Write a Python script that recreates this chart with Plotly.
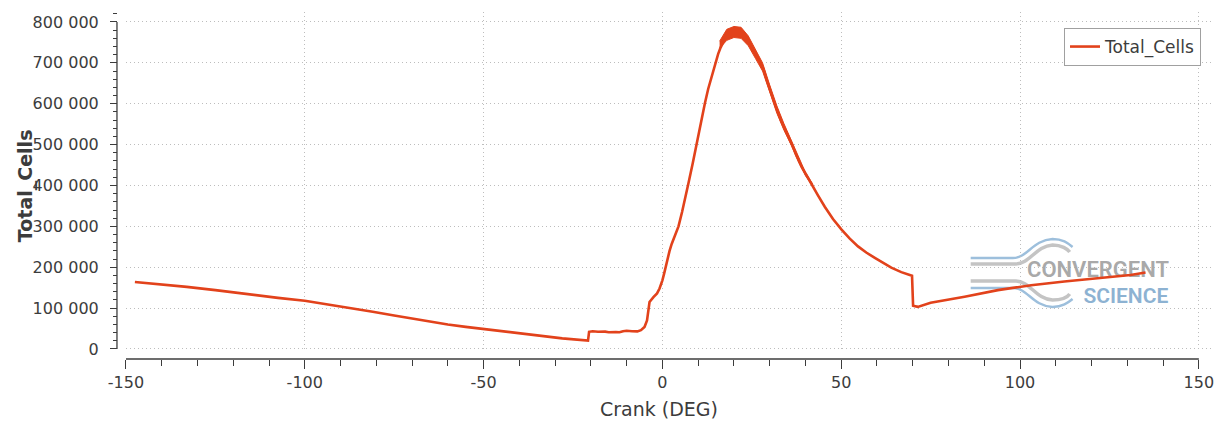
import plotly.graph_objects as go

# Total cell count over the cycle
crank_deg = [-147.5, -140, -133, -125, -115, -107.5, -100, -93, -87, -81, -75, -68, -60, -55,
             -50, -42, -35, -28, -20.8,
             -20.5, -19.5, -18, -16, -15, -13, -12, -11, -10, -8.5, -7, -6, -5, -4.3,
             -3.6, -2.5, -1.5, -0.8, -0.3, 0, 0.5, 1, 1.5, 2, 2.6, 3.5, 4.5, 5.5, 6.5, 7.3,
             8.5, 9.6, 10.8, 11.9, 12.8, 13.8, 14.7, 15.6, 16.3, 17, 17.7, 18.4, 19.2, 20,
             22, 23.4, 24.6, 25.9, 27, 28.2, 29.3, 30.5, 31.9, 33.3, 34.7, 36.1, 37.5, 38.9,
             40.3, 41.7, 43.5, 45.4, 47.7, 50.1, 52.4, 54.7, 57, 59.4, 61.7, 64, 66.8, 69.8,
             70.1, 71.4, 75, 77, 84.5, 93.8, 103.1, 112.4, 121.7, 130.9, 135.1]
total_cells = [164000, 158500, 152000, 144000, 132500, 125000, 118000, 108500, 100000, 91000,
               82000, 71000, 60000, 54000, 49000, 40000, 32500, 26000, 20500,
               42000, 43500, 42000, 42500, 41000, 41500, 41000, 43500, 44500, 43500, 43000,
               46000, 54000, 70000, 115000, 127000, 136000, 148000, 158000, 168000, 185000,
               205000, 222000, 240000, 257000, 278000, 300000, 335000, 372000, 406000,
               455000, 504000, 555000, 602000, 636000, 668000, 697000, 722000, 738000,
               752000, 762000, 770000, 774000, 775000,
               773000, 762000, 745000, 724000, 706000, 686000, 655000, 622000, 588000, 556000,
               530000, 503000, 473000, 446000, 425000, 405000, 376000, 348000, 318000, 292000,
               270000, 251000, 236000, 223000, 210000, 199000, 188000, 179000,
               106000, 103000, 113000, 116000, 128000, 144000, 156000, 165000, 173000, 181000,
               187000]

# Spread of the noisy cell count around the peak (upper / lower envelope)
band_deg = [16, 18, 20, 22, 24, 26, 28, 30, 32, 34, 36, 38, 40, 42]
band_upper = [753000, 782000, 789000, 787000, 766000, 734000, 700000, 646000, 595000,
              551000, 511000, 469000, 432000, 404000]
band_lower = [736000, 755000, 762000, 760000, 742000, 711000, 680000, 626000, 577000,
              535000, 499000, 459000, 424000, 398000]

x_tick_vals = [-150, -100, -50, 0, 50, 100, 150]
x_tick_text = ["-150", "-100", "-50", "0", "50", "100", "150"]
y_tick_vals = [0, 100000, 200000, 300000, 400000, 500000, 600000, 700000, 800000]
y_tick_text = ["0", "100 000", "200 000", "300 000", "400 000", "500 000", "600 000",
               "700 000", "800 000"]

LINE = "#e2421b"
AXIS = "#3c3c3c"
GRID = "#bdbdbd"
FONT = "DejaVu Sans"

W, H = 1226, 421
ML, MR, MT, MB = 100, 13, 12, 50
PW, PH = W - ML - MR, H - MT - MB


def px_x(p):
    return (p - ML) / PW


def px_y(p):
    return (H - MB - p) / PH


fig = go.Figure()

# watermark logo text, drawn beneath the data line
fig.add_trace(go.Scatter(
    x=[121.8, 129.6], y=[189000, 126000], mode="text",
    text=["CONVERGENT", "SCIENCE"],
    textfont=dict(family="Roboto", size=[22, 21], color=["#a9a9a9", "#8db2d2"], weight=600),
    showlegend=False, hoverinfo="skip"))

fig.add_trace(go.Scatter(
    x=crank_deg, y=total_cells, mode="lines", name="Total_Cells",
    line=dict(color=LINE, width=2.6)))

fig.add_trace(go.Scatter(
    x=band_deg + band_deg[::-1], y=band_upper + band_lower[::-1],
    mode="lines", fill="toself", fillcolor=LINE, line=dict(color=LINE, width=1),
    showlegend=False, hoverinfo="skip"))


# logo swooshes (data coordinates)
def swoosh(pts, color, width):
    d = "M {},{} L {},{} C {},{} {},{} {},{} C {},{} {},{} {},{}".format(*sum(pts, ()))
    return dict(type="path", path=d, xref="x", yref="y", layer="below",
                line=dict(color=color, width=width))


shapes = [
    swoosh([(86.2, 222600), (98.0, 222600), (102.1, 222600), (103.5, 266600), (109.1, 269100),
            (111.9, 269100), (113.3, 259300), (114.7, 249500)], "#9dbfdc", 2.5),
    swoosh([(86.2, 207900), (98.8, 207900), (102.7, 207900), (104.4, 251900), (109.1, 254400),
            (111.6, 254400), (113.3, 244600), (113.9, 237300)], "#c4c4c4", 3.5),
    swoosh([(86.2, 166300), (98.8, 166300), (102.7, 166300), (104.4, 122300), (109.1, 119800),
            (111.6, 119800), (113.3, 127100), (113.9, 134500)], "#c4c4c4", 3.5),
    swoosh([(86.2, 149200), (98.0, 149200), (102.1, 149200), (103.5, 105200), (109.1, 102700),
            (111.9, 102700), (113.3, 112500), (114.7, 122300)], "#9dbfdc", 2.5),
    # detached axis lines
    dict(type="line", xref="paper", yref="y", x0=px_x(117), x1=px_x(117), y0=0, y1=800000,
         line=dict(color=AXIS, width=1.3)),
    dict(type="line", xref="x", yref="paper", x0=-150, x1=150, y0=px_y(359), y1=px_y(359),
         line=dict(color=AXIS, width=1.3)),
]

fig.update_layout(
    width=W, height=H,
    margin=dict(l=ML, r=MR, t=MT, b=MB),
    paper_bgcolor="white", plot_bgcolor="white",
    font=dict(family=FONT, size=16, color=AXIS),
    separators=". ",
    shapes=shapes,
    xaxis=dict(
        domain=[px_x(126), 1], range=[-150, 153.4], anchor="free", position=px_y(359),
        showline=False, zeroline=False,
        tickmode="array", tickvals=x_tick_vals, ticktext=x_tick_text,
        ticks="outside", ticklen=9, tickwidth=1.2, tickcolor=AXIS,
        minor=dict(dtick=10, ticks="outside", ticklen=6, tickwidth=1.2, tickcolor=AXIS,
                   showgrid=False),
        showgrid=True, gridcolor=GRID, griddash="1px,3px", gridwidth=1,
        tickfont=dict(size=16, color=AXIS),
    ),
    yaxis=dict(
        domain=[px_y(350), 1], range=[-2500, 824400], anchor="free", position=px_x(117),
        showline=False, zeroline=False,
        tickmode="array", tickvals=y_tick_vals, ticktext=y_tick_text,
        ticks="outside", ticklen=7, tickwidth=1.2, tickcolor=AXIS, ticklabelstandoff=8,
        minor=dict(tick0=0, dtick=20000, ticks="outside", ticklen=4, tickwidth=1.2,
                   tickcolor=AXIS, showgrid=False),
        showgrid=True, gridcolor=GRID, griddash="1px,3px", gridwidth=1,
        tickfont=dict(size=16, color=AXIS),
    ),
    legend=dict(x=px_x(1203), y=px_y(28), xanchor="right", yanchor="top",
                bgcolor="white", bordercolor="#a0a0a0", borderwidth=1,
                font=dict(size=17, color=AXIS, family=FONT)),
    annotations=[
        dict(text="Crank (DEG)", xref="paper", yref="paper", x=px_x(660), y=px_y(409),
             xanchor="center", yanchor="middle", showarrow=False,
             font=dict(size=19, color=AXIS)),
        dict(text="<b>Total_Cells</b>", xref="paper", yref="paper", x=px_x(25), y=px_y(186),
             xanchor="center", yanchor="middle", textangle=-90, showarrow=False,
             font=dict(size=19, color=AXIS)),
    ],
)

fig.write_html("out.html")
